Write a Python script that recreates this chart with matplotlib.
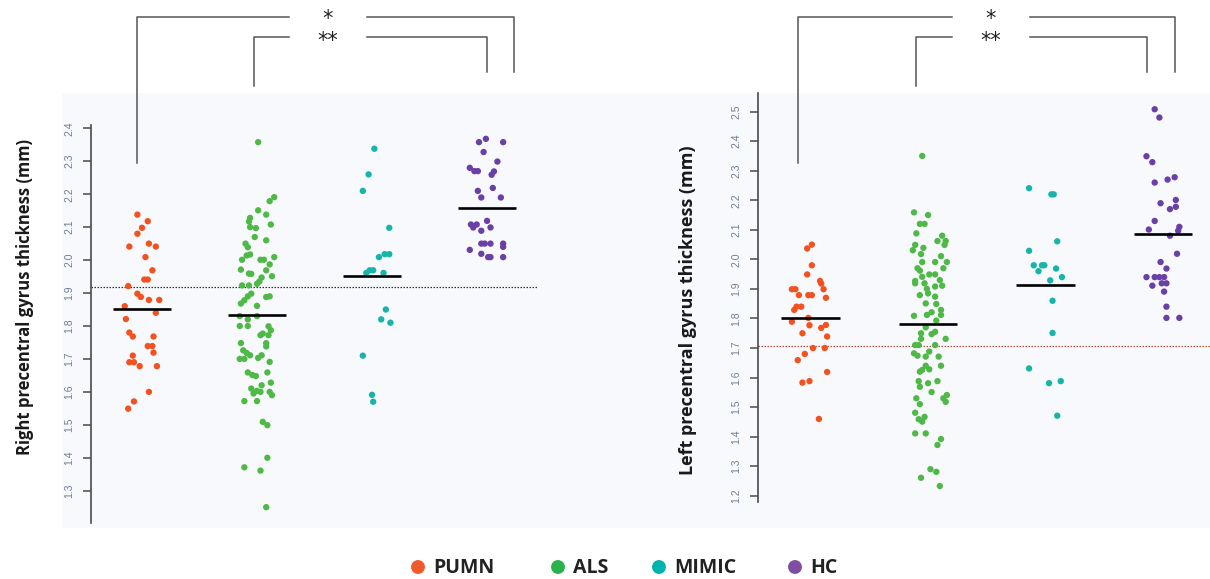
import matplotlib
matplotlib.use("Agg")
import matplotlib.pyplot as plt
import numpy as np

# ---------------- data ----------------
groups = ["PUMN", "ALS", "MIMIC", "HC"]
plot_colors = ["#f2521f", "#4fb947", "#17b4a9", "#6a40a6"]
legend_colors = ["#f15a29", "#2bb24c", "#00b3ad", "#7f4ea3"]

# Right precentral gyrus thickness (mm) -- left panel
r_pumn = [2.138, 2.118, 2.098, 2.080, 2.041, 2.050, 2.041, 2.009, 1.969, 1.941, 1.941,
          1.921, 1.898, 1.888, 1.879, 1.879, 1.860, 1.840, 1.821, 1.780, 1.768, 1.768,
          1.739, 1.739, 1.719, 1.710, 1.690, 1.690, 1.678, 1.678, 1.600, 1.571, 1.549]
r_pumn_jit = [-0.04, 0.05, 0.00, -0.04, -0.11, 0.06, 0.12, 0.03, 0.09, 0.02, 0.05,
              -0.12, -0.04, -0.01, 0.06, 0.15, -0.15, 0.12, -0.14, -0.11, -0.08, 0.10,
              0.05, 0.09, 0.10, -0.08, -0.11, -0.07, -0.02, 0.13, 0.06, -0.07, -0.12]
r_als = [2.358, 2.191, 2.179, 2.151, 2.138, 2.128, 2.117, 2.108, 2.100, 2.097, 2.070,
         2.060, 2.050, 2.039, 2.001, 2.014, 2.017, 2.001, 2.001, 2.009, 1.987, 1.971,
         1.959, 1.958, 1.969, 1.951, 1.947, 1.935, 1.928, 1.923, 1.923, 1.898, 1.890,
         1.888, 1.890, 1.878, 1.868, 1.861, 1.830, 1.820, 1.830, 1.800, 1.800, 1.799,
         1.787, 1.772, 1.772, 1.777, 1.748, 1.738, 1.748, 1.726, 1.718, 1.700, 1.700,
         1.711, 1.703, 1.711, 1.691, 1.659, 1.651, 1.648, 1.659, 1.628, 1.620, 1.610,
         1.595, 1.603, 1.600, 1.600, 1.590, 1.572, 1.572, 1.509, 1.499, 1.400, 1.371,
         1.361, 1.250]
r_als_jit = [0.01, 0.15, 0.11, 0.01, 0.08, -0.06, -0.07, 0.12, -0.06, -0.01, -0.02,
             0.08, -0.10, -0.08, -0.13, -0.09, -0.06, 0.03, 0.06, 0.15, 0.11, -0.14,
             -0.07, -0.05, 0.08, 0.13, 0.04, 0.02, 0.00, -0.13, -0.07, -0.05, -0.08,
             0.08, 0.11, -0.11, -0.14, 0.00, -0.15, -0.08, 0.00, -0.15, -0.08, 0.10,
             0.12, 0.10, 0.03, 0.05, 0.08, 0.08, -0.14, -0.12, -0.09, -0.15, -0.11,
             -0.06, 0.01, 0.04, 0.11, -0.08, -0.04, -0.01, 0.09, 0.12, 0.04, -0.05,
             -0.03, 0.00, 0.03, 0.11, 0.13, -0.11, 0.00, 0.05, 0.09, 0.09, -0.11,
             0.03, 0.08]
r_mimic = [2.338, 2.260, 2.210, 2.098, 2.009, 2.018, 2.018, 1.961, 1.969, 1.969, 1.961,
           1.850, 1.820, 1.810, 1.710, 1.591, 1.570]
r_mimic_jit = [0.02, -0.03, -0.08, 0.15, 0.06, 0.11, 0.15, -0.05, -0.02, 0.01, 0.10,
               0.12, 0.08, 0.16, -0.08, 0.00, 0.01]
r_hc = [2.358, 2.368, 2.358, 2.328, 2.299, 2.280, 2.270, 2.270, 2.269, 2.259, 2.210,
        2.219, 2.190, 2.190, 2.119, 2.108, 2.108, 2.099, 2.099, 2.089, 2.050, 2.050,
        2.050, 2.050, 2.040, 2.031, 2.019, 2.009, 2.009, 2.009]
r_hc_jit = [-0.07, -0.01, 0.14, -0.03, 0.09, -0.15, -0.11, -0.08, 0.06, 0.04, -0.08,
            0.05, -0.05, 0.12, 0.00, -0.14, -0.09, -0.12, 0.03, -0.05, -0.05, -0.02,
            0.03, 0.14, 0.14, -0.15, -0.05, 0.01, 0.03, 0.14]
r_means = [1.853, 1.833, 1.953, 2.159]
r_ref = 1.918
r_ticks = [1.3, 1.4, 1.5, 1.6, 1.7, 1.8, 1.9, 2.0, 2.1, 2.2, 2.3, 2.4]

# Left precentral gyrus thickness (mm) -- right panel
l_pumn = [2.050, 2.037, 1.980, 1.949, 1.927, 1.918, 1.899, 1.899, 1.899, 1.879, 1.879,
          1.879, 1.870, 1.840, 1.840, 1.829, 1.802, 1.789, 1.778, 1.777, 1.768, 1.750,
          1.739, 1.680, 1.700, 1.700, 1.659, 1.619, 1.583, 1.588, 1.460]
l_pumn_jit = [0.01, -0.03, 0.01, -0.03, 0.08, 0.09, -0.16, -0.13, 0.11, -0.10, -0.02,
              0.01, 0.13, -0.12, -0.08, -0.14, -0.02, -0.16, 0.13, -0.01, 0.09, -0.07,
              0.14, -0.05, 0.02, 0.12, -0.11, 0.14, -0.07, -0.01, 0.07]
l_als = [2.350, 2.159, 2.150, 2.120, 2.120, 2.088, 2.080, 2.062, 2.062, 2.049, 2.049,
         2.039, 2.031, 2.018, 2.011, 1.991, 1.991, 1.991, 1.970, 1.962, 1.970, 1.941,
         1.949, 1.949, 1.927, 1.919, 1.919, 1.930, 1.900, 1.908, 1.911, 1.879, 1.885,
         1.874, 1.851, 1.849, 1.829, 1.809, 1.812, 1.821, 1.812, 1.793, 1.770, 1.750,
         1.747, 1.755, 1.731, 1.731, 1.710, 1.710, 1.710, 1.682, 1.674, 1.671, 1.688,
         1.671, 1.640, 1.626, 1.620, 1.628, 1.640, 1.588, 1.569, 1.581, 1.588, 1.551,
         1.530, 1.510, 1.530, 1.541, 1.518, 1.481, 1.459, 1.451, 1.467, 1.411, 1.411,
         1.392, 1.372, 1.290, 1.281, 1.261, 1.233]
l_als_jit = [-0.05, -0.12, 0.00, -0.07, -0.03, -0.10, 0.12, 0.08, 0.15, 0.14, -0.11,
             -0.04, -0.13, -0.06, 0.11, -0.05, 0.06, 0.16, -0.09, -0.07, 0.13, -0.05,
             0.01, 0.06, -0.11, -0.11, -0.03, 0.10, -0.01, 0.06, 0.12, -0.07, 0.00,
             0.06, -0.02, 0.07, 0.11, -0.12, -0.01, 0.03, 0.11, 0.07, -0.02, -0.06,
             0.03, 0.06, 0.15, -0.06, -0.11, -0.08, 0.06, -0.12, -0.09, -0.02, 0.01,
             0.09, -0.02, -0.05, -0.07, 0.01, 0.11, -0.08, -0.07, 0.00, 0.08, 0.03,
             -0.10, -0.07, 0.13, 0.16, 0.15, -0.11, -0.08, -0.05, -0.03, -0.11, -0.02,
             0.11, 0.08, 0.02, 0.07, -0.06, 0.10]
l_mimic = [2.241, 2.220, 2.220, 2.061, 2.029, 1.980, 1.980, 1.980, 1.960, 1.969, 1.940,
           1.929, 1.860, 1.751, 1.631, 1.581, 1.588, 1.471]
l_mimic_jit = [-0.14, 0.05, 0.07, 0.10, -0.14, -0.10, -0.03, -0.01, -0.06, 0.09, 0.14,
               0.04, 0.06, 0.06, -0.14, 0.03, 0.13, 0.10]
l_hc = [2.508, 2.480, 2.349, 2.329, 2.260, 2.270, 2.278, 2.201, 2.190, 2.170, 2.178,
        2.130, 2.101, 2.110, 2.097, 2.080, 2.019, 1.991, 1.969, 1.940, 1.940, 1.940,
        1.940, 1.911, 1.919, 1.919, 1.891, 1.840, 1.802, 1.802]
l_hc_jit = [-0.07, -0.03, -0.14, -0.09, -0.07, 0.04, 0.10, 0.11, -0.02, 0.06, 0.11,
            -0.07, -0.12, 0.14, 0.13, 0.06, 0.12, -0.02, 0.03, -0.14, -0.07, -0.03,
            0.01, -0.09, -0.01, 0.03, 0.01, 0.03, 0.03, 0.14]
l_means = [1.803, 1.780, 1.912, 2.087]
l_ref = 1.708
l_ticks = [1.2, 1.3, 1.4, 1.5, 1.6, 1.7, 1.8, 1.9, 2.0, 2.1, 2.2, 2.3, 2.4, 2.5]

sig_labels = ["*", "**"]

# ---------------- figure ----------------
W, H = 1210, 579
fig = plt.figure(figsize=(W / 100, H / 100), dpi=100)
fig.patch.set_facecolor("white")

def px_rect(x0, y0, x1, y1):
    return [x0 / W, 1 - y1 / H, (x1 - x0) / W, (y1 - y0) / H]

# background overlay
bg = fig.add_axes([0, 0, 1, 1], zorder=0)
bg.set_xlim(0, W); bg.set_ylim(H, 0); bg.axis("off")
bg.add_patch(plt.Rectangle((62, 93), W - 62, 435, facecolor="#f8f9fc", edgecolor="none"))

def panel(rect, ylim, ticks, series, jits, means, ref, refcolor, xlim):
    ax = fig.add_axes(rect, zorder=2)
    ax.set_facecolor("none")
    for i, (vals, jit) in enumerate(zip(series, jits)):
        x = (i + 1) + np.asarray(jit)
        ax.scatter(x, vals, s=21, color=plot_colors[i], edgecolors="none", zorder=3)
        ax.hlines(means[i], i + 1 - 0.25, i + 1 + 0.25, color="black", lw=1.9, zorder=4)
    ax.axhline(ref, color=refcolor, lw=0.9, ls=(0, (1.2, 1.2)), zorder=2)
    ax.set_xlim(*xlim)
    ax.set_ylim(*ylim)
    for s in ["top", "right", "bottom"]:
        ax.spines[s].set_visible(False)
    ax.spines["left"].set_color("#4a4a4a")
    ax.spines["left"].set_linewidth(1.2)
    ax.set_xticks([])
    ax.set_yticks(ticks)
    ax.set_yticklabels([f"{t:.1f}" for t in ticks], rotation=90, va="center",
                       fontsize=7.5, color="#6e7d95", family="Liberation Sans")
    ax.tick_params(axis="y", direction="out", length=6, width=1.1, color="#4a4a4a", pad=6)
    return ax

axL = panel(px_rect(90.7, 125, 538, 523), (1.202, 2.41), r_ticks,
            [r_pumn, r_als, r_mimic, r_hc], [r_pumn_jit, r_als_jit, r_mimic_jit, r_hc_jit],
            r_means, r_ref, "#333333", (0.554, 4.443))
axR = panel(px_rect(758.3, 93.3, 1210, 501.7), (1.180, 2.562), l_ticks,
            [l_pumn, l_als, l_mimic, l_hc], [l_pumn_jit, l_als_jit, l_mimic_jit, l_hc_jit],
            l_means, l_ref, "#b5523c", (0.554, 4.401))

# y labels
fig.text(25 / W, 1 - 297 / H, "Right precentral gyrus thickness (mm)", rotation=90,
         ha="center", va="center", fontsize=12, fontweight="bold", family="Open Sans",
         color="#1a1a1a")
fig.text(688 / W, 1 - 310 / H, "Left precentral gyrus thickness (mm)", rotation=90,
         ha="center", va="center", fontsize=13, fontweight="bold", family="Open Sans",
         color="#1a1a1a")

# overlay for brackets & legend
ov = fig.add_axes([0, 0, 1, 1], zorder=5)
ov.set_facecolor("none")
ov.set_xlim(0, W); ov.set_ylim(H, 0); ov.axis("off")
lc = "#555555"

def bracket(x_left, x_right, y_top, yl_bot, yr_bot, gap_l, gap_r):
    ov.plot([x_left, x_left, gap_l], [yl_bot, y_top, y_top], color=lc, lw=1.1)
    ov.plot([gap_r, x_right, x_right], [y_top, y_top, yr_bot], color=lc, lw=1.1)

# left panel brackets
bracket(136.5, 514, 16.5, 163, 72, 289, 367)
bracket(254, 486.5, 37, 86, 72, 289, 367)
ov.text(328, 19, sig_labels[0], ha="center", va="center", fontsize=15, color="#222222")
ov.text(328, 41, sig_labels[1], ha="center", va="center", fontsize=15, color="#222222")
# right panel brackets
bracket(798, 1175, 16.5, 163, 72, 952, 1030)
bracket(916, 1147, 37, 86, 72, 952, 1030)
ov.text(991, 19, sig_labels[0], ha="center", va="center", fontsize=15, color="#222222")
ov.text(991, 41, sig_labels[1], ha="center", va="center", fontsize=15, color="#222222")

# legend
leg_x = [418, 558, 659, 795]
for i, g in enumerate(groups):
    ov.scatter([leg_x[i]], [567], s=100, color=legend_colors[i], edgecolors="none")
    ov.text(leg_x[i] + 15, 568, g, ha="left", va="center", fontsize=14,
            fontweight="bold", family="Open Sans", color="#222222")

fig.savefig("out.png", dpi=100)
